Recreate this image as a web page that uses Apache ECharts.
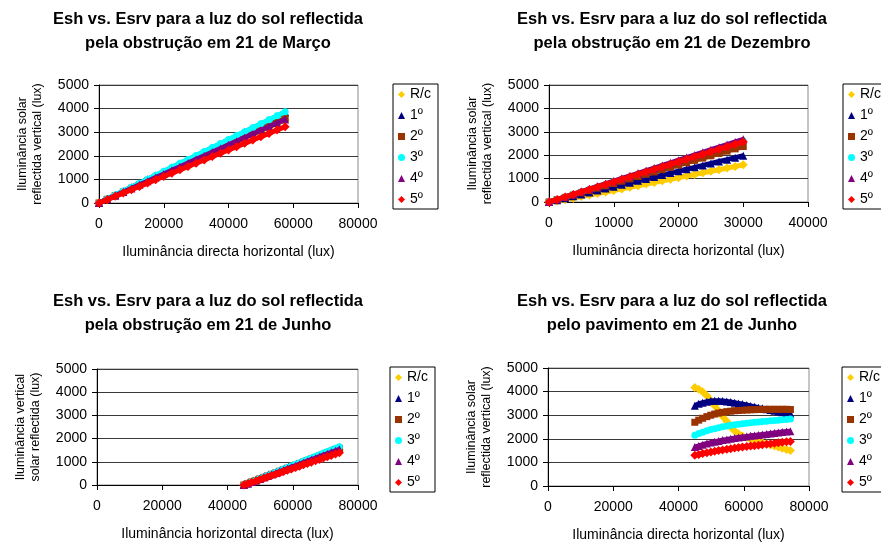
<!DOCTYPE html>
<html>
<head>
<meta charset="utf-8">
<script src="https://cdn.jsdelivr.net/npm/echarts@6/dist/echarts.min.js"></script>
<style>
  html, body { margin: 0; padding: 0; background: #fff; }
  #chart { width: 881px; height: 543px; }
</style>
</head>
<body>
<div id="chart"></div>
<script>
// Series names (floors) shared by all four panels
const seriesNames = ['R/c', '1º', '2º', '3º', '4º', '5º'];

// ---- 21 de Março, luz reflectida pela obstrução ----
const xMarco = [0, 2500, 5000, 7500, 10000, 12500, 15000, 17500, 20000, 22500, 25000, 27500,
  30000, 32500, 35000, 37500, 40000, 42500, 45000, 47500, 50000, 52500, 55000, 57500];
const marcoRc = [0, 153, 306, 459, 612, 765, 918, 1071, 1224, 1377, 1530, 1683, 1836, 1989, 2142, 2295, 2448, 2601, 2754, 2907, 3060, 3213, 3366, 3519];
const marco1 = [0, 167, 334, 501, 668, 835, 1002, 1169, 1336, 1503, 1670, 1837, 2004, 2171, 2338, 2505, 2672, 2839, 3006, 3173, 3340, 3507, 3674, 3841];
const marco2 = [0, 156, 312, 467, 623, 779, 935, 1090, 1246, 1402, 1558, 1713, 1869, 2025, 2181, 2336, 2492, 2648, 2804, 2959, 3115, 3271, 3427, 3582];
const marco3 = [0, 168, 336, 504, 672, 840, 1008, 1176, 1344, 1512, 1680, 1848, 2016, 2184, 2352, 2520, 2688, 2856, 3024, 3192, 3360, 3528, 3696, 3864];
const marco4 = [0, 154, 308, 462, 616, 770, 924, 1078, 1232, 1386, 1540, 1694, 1848, 2002, 2156, 2310, 2464, 2618, 2772, 2926, 3080, 3234, 3388, 3542];
const marco5 = [0, 140, 281, 421, 562, 702, 843, 983, 1124, 1264, 1405, 1545, 1686, 1826, 1967, 2107, 2248, 2388, 2529, 2669, 2810, 2950, 3091, 3231];

// ---- 21 de Dezembro, luz reflectida pela obstrução ----
const xDezembro = [0, 1250, 2500, 3750, 5000, 6250, 7500, 8750, 10000, 11250, 12500, 13750, 15000,
  16250, 17500, 18750, 20000, 21250, 22500, 23750, 25000, 26250, 27500, 28750, 30000];
const dezRc = [0, 45, 100, 160, 230, 295, 360, 425, 490, 560, 630, 695, 765, 835, 905, 970, 1040, 1110, 1175, 1245, 1315, 1380, 1450, 1520, 1590];
const dez1 = [0, 80, 160, 245, 325, 410, 490, 575, 655, 740, 820, 905, 985, 1070, 1150, 1235, 1315, 1400, 1480, 1565, 1645, 1730, 1810, 1895, 1980];
const dez2 = [0, 100, 198, 296, 395, 494, 593, 691, 790, 889, 988, 1086, 1185, 1284, 1383, 1481, 1580, 1679, 1778, 1876, 1975, 2074, 2173, 2271, 2370];
const dez3 = [0, 109, 218, 327, 436, 545, 654, 763, 872, 981, 1090, 1199, 1308, 1417, 1526, 1635, 1744, 1853, 1962, 2071, 2180, 2289, 2398, 2507, 2616];
const dez4 = [0, 112, 223, 335, 447, 558, 670, 781, 893, 1005, 1116, 1228, 1340, 1451, 1563, 1674, 1786, 1898, 2009, 2121, 2233, 2344, 2456, 2567, 2679];
const dez5 = [0, 108, 215, 323, 430, 538, 645, 753, 860, 968, 1075, 1183, 1290, 1398, 1505, 1613, 1720, 1828, 1935, 2043, 2150, 2258, 2365, 2473, 2580];

// ---- 21 de Junho (horizontal directa) ----
const xJunho = [45000, 46200, 47400, 48700, 49900, 51100, 52300, 53500, 54800, 56000, 57200, 58400,
  59600, 60900, 62100, 63300, 64500, 65700, 67000, 68200, 69400, 70600, 71800, 73100, 74300];

// obstrução
const junObsRc = [0, 63, 127, 190, 253, 317, 380, 444, 507, 570, 634, 697, 760, 824, 887, 950, 1014, 1077, 1140, 1204, 1267, 1330, 1394, 1457, 1521];
const junObs1 = [0, 68, 136, 204, 272, 340, 408, 475, 543, 611, 679, 747, 815, 883, 951, 1019, 1087, 1155, 1223, 1291, 1358, 1426, 1494, 1562, 1630];
const junObs2 = [0, 66, 132, 198, 264, 329, 395, 461, 527, 593, 659, 725, 791, 857, 922, 988, 1054, 1120, 1186, 1252, 1318, 1384, 1450, 1515, 1581];
const junObs3 = [0, 69, 138, 206, 275, 344, 413, 481, 550, 619, 688, 756, 825, 894, 963, 1031, 1100, 1169, 1238, 1306, 1375, 1444, 1513, 1581, 1650];
const junObs4 = [0, 64, 128, 193, 257, 321, 385, 449, 514, 578, 642, 706, 770, 835, 899, 963, 1027, 1091, 1156, 1220, 1284, 1348, 1412, 1477, 1541];
const junObs5 = [0, 58, 116, 174, 232, 290, 348, 406, 464, 521, 579, 637, 695, 753, 811, 869, 927, 985, 1043, 1101, 1159, 1217, 1275, 1333, 1390];

// pavimento
const junPavRc = [4170, 4100, 3990, 3820, 3620, 3400, 3180, 2960, 2740, 2500, 2330, 2210, 2120, 2050, 1990, 1930, 1880, 1830, 1780, 1740, 1700, 1650, 1600, 1550, 1500];
const junPav1 = [3400, 3480, 3530, 3570, 3600, 3610, 3610, 3600, 3580, 3560, 3530, 3500, 3470, 3430, 3390, 3360, 3320, 3290, 3250, 3220, 3190, 3160, 3130, 3100, 3070];
const junPav2 = [2700, 2790, 2870, 2940, 3000, 3050, 3090, 3120, 3150, 3170, 3190, 3200, 3210, 3220, 3230, 3235, 3240, 3245, 3250, 3250, 3250, 3250, 3250, 3250, 3240];
const junPav3 = [2150, 2220, 2280, 2340, 2390, 2430, 2470, 2510, 2540, 2570, 2595, 2620, 2640, 2660, 2680, 2700, 2715, 2730, 2745, 2760, 2775, 2790, 2805, 2820, 2835];
const junPav4 = [1650, 1700, 1750, 1800, 1840, 1880, 1910, 1945, 1975, 2000, 2030, 2055, 2080, 2100, 2125, 2145, 2165, 2185, 2205, 2225, 2245, 2265, 2285, 2305, 2325];
const junPav5 = [1300, 1340, 1375, 1410, 1440, 1470, 1500, 1530, 1555, 1580, 1605, 1630, 1650, 1670, 1690, 1710, 1730, 1750, 1770, 1790, 1810, 1830, 1850, 1870, 1890];

const colors = ['#FFCC00', '#000080', '#993300', '#00FFFF', '#800080', '#FF0000'];
const symbols = ['diamond', 'triangle', 'rect', 'circle', 'triangle', 'diamond'];
const symbolSizes = [9, 8, 7, 7, 8, 9];

const FONT = '"Liberation Sans", Arial, sans-serif';

const panels = [
  {
    title: 'Esh vs. Esrv para a luz do sol reflectida\npela obstrução em 21 de Março',
    titleX: 203, titleTop: 2,
    grid: { left: 99, top: 85, width: 259, height: 118 },
    xMax: 80000, xInterval: 20000,
    xName: 'Iluminância directa horizontal (lux)',
    yName: 'Iluminância solar\nreflectida vertical (lux)',
    legend: { left: 393, top: 84 },
    x: xMarco, ys: [marcoRc, marco1, marco2, marco3, marco4, marco5]
  },
  {
    title: 'Esh vs. Esrv para a luz do sol reflectida\npela obstrução em 21 de Dezembro',
    titleX: 667, titleTop: 2,
    grid: { left: 549, top: 85, width: 259, height: 117 },
    xMax: 40000, xInterval: 10000,
    xName: 'Iluminância directa horizontal (lux)',
    yName: 'Iluminância solar\nreflectida vertical (lux)',
    legend: { left: 843, top: 84 },
    x: xDezembro, ys: [dezRc, dez1, dez2, dez3, dez4, dez5]
  },
  {
    title: 'Esh vs. Esrv para a luz do sol reflectida\npela obstrução em 21 de Junho',
    titleX: 203, titleTop: 284,
    grid: { left: 97, top: 369, width: 261, height: 116 },
    xMax: 80000, xInterval: 20000,
    xName: 'Iluminância horizontal directa (lux)',
    yName: 'Iluminância vertical\nsolar reflectida (lux)',
    legend: { left: 390, top: 367 },
    x: xJunho, ys: [junObsRc, junObs1, junObs2, junObs3, junObs4, junObs5]
  },
  {
    title: 'Esh vs. Esrv para a luz do sol reflectida\npelo pavimento em 21 de Junho',
    titleX: 667, titleTop: 284,
    grid: { left: 548, top: 368, width: 261, height: 118 },
    xMax: 80000, xInterval: 20000,
    xName: 'Iluminância directa horizontal (lux)',
    yName: 'Iluminância solar\nreflectida vertical (lux)',
    legend: { left: 842, top: 367 },
    x: xJunho, ys: [junPavRc, junPav1, junPav2, junPav3, junPav4, junPav5]
  }
];

const plain = v => String(v);

const option = {
  animation: false,
  backgroundColor: '#fff',
  textStyle: { fontFamily: FONT, color: '#000' },
  title: [], grid: [], xAxis: [], yAxis: [], legend: [], series: []
};

panels.forEach((p, gi) => {
  option.title.push({
    text: p.title,
    left: p.titleX, top: p.titleTop,
    textAlign: 'center',
    textStyle: { fontFamily: FONT, fontSize: 16.5, fontWeight: 'bold', color: '#000', lineHeight: 24 }
  });
  option.grid.push(Object.assign({
    show: true, borderColor: '#8c8c8c', borderWidth: 1, backgroundColor: 'transparent'
  }, p.grid));
  option.xAxis.push({
    type: 'value', gridIndex: gi, min: 0, max: p.xMax, interval: p.xInterval,
    name: p.xName, nameLocation: 'middle', nameGap: 42,
    nameTextStyle: { fontFamily: FONT, fontSize: 14, color: '#000' },
    axisLine: { show: true, onZero: false, lineStyle: { color: '#000', width: 1 } },
    axisTick: { show: true, inside: false, length: 5, lineStyle: { color: '#000' } },
    axisLabel: { fontFamily: FONT, fontSize: 14, color: '#000', margin: 14, formatter: plain },
    splitLine: { show: false }
  });
  option.yAxis.push({
    type: 'value', gridIndex: gi, min: 0, max: 5000, interval: 1000,
    name: p.yName, nameLocation: 'middle', nameGap: 54,
    nameTextStyle: { fontFamily: FONT, fontSize: 12.5, color: '#000', lineHeight: 15 },
    axisLine: { show: true, onZero: false, lineStyle: { color: '#000', width: 1 } },
    axisTick: { show: true, inside: false, length: 5, lineStyle: { color: '#000' } },
    axisLabel: { fontFamily: FONT, fontSize: 14, color: '#000', margin: 10, formatter: plain },
    splitLine: { show: true, lineStyle: { color: '#3a3a3a', width: 1 } }
  });
  option.legend.push({
    orient: 'vertical',
    left: p.legend.left, top: p.legend.top,
    padding: [3, 7, 2, 5],
    itemGap: 6, itemWidth: 7, itemHeight: 7,
    borderColor: '#000', borderWidth: 1, backgroundColor: '#fff',
    textStyle: { fontFamily: FONT, fontSize: 14, color: '#000', lineHeight: 15 },
    data: seriesNames.map((n, i) => ({ name: n, icon: symbols[i] })),
    selectedMode: false
  });
  seriesNames.forEach((name, si) => {
    option.series.push({
      name: name,
      type: 'line',
      xAxisIndex: gi, yAxisIndex: gi,
      data: p.x.map((xv, k) => [xv, p.ys[si][k]]),
      symbol: symbols[si],
      symbolSize: symbolSizes[si],
      showAllSymbol: true,
      itemStyle: { color: colors[si] },
      lineStyle: { color: colors[si], width: 5 },
      emphasis: { disabled: true },
      z: 2 + si * 0.01
    });
  });
});

const chart = echarts.init(document.getElementById('chart'), null, { renderer: 'canvas' });
chart.setOption(option);
</script>
</body>
</html>
